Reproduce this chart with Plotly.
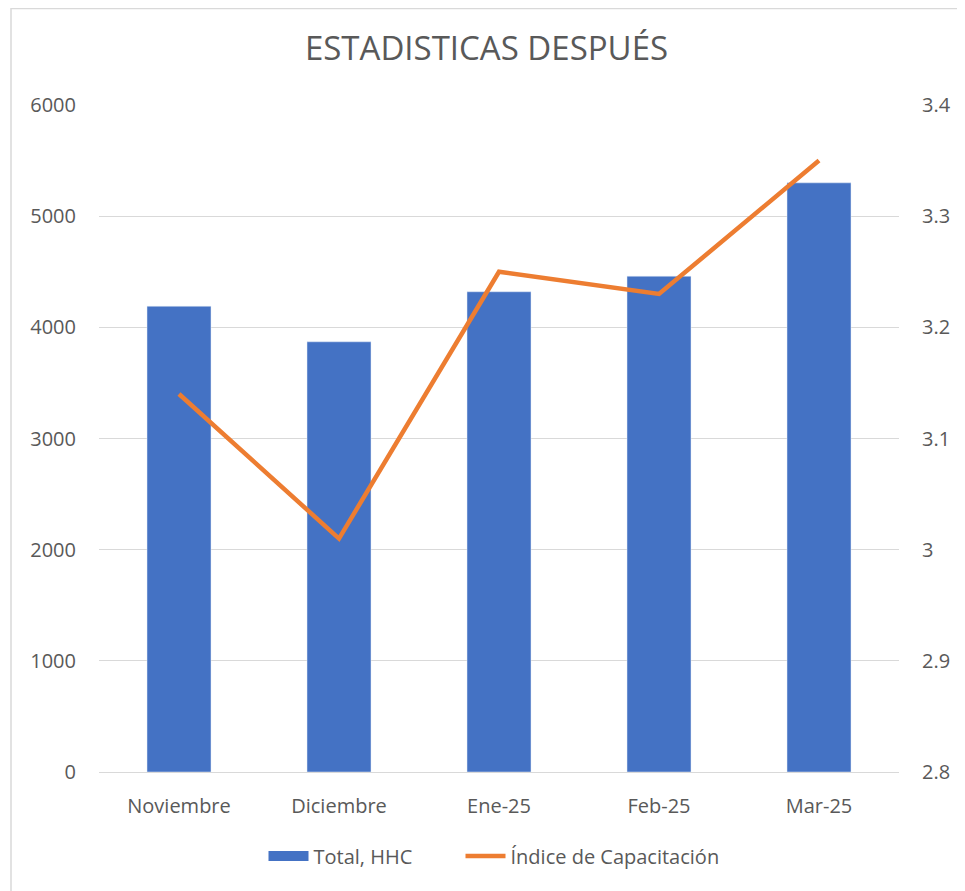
import plotly.graph_objects as go

categories = ["Noviembre", "Diciembre", "Ene-25", "Feb-25", "Mar-25"]
total_hhc = [4190, 3870, 4320, 4460, 5300]
indice_cap = [3.14, 3.01, 3.25, 3.23, 3.35]
left_ticks = [0, 1000, 2000, 3000, 4000, 5000, 6000]
right_ticks = [2.8, 2.9, 3.0, 3.1, 3.2, 3.3, 3.4]
right_labels = ["2.8", "2.9", "3", "3.1", "3.2", "3.3", "3.4"]

FONT = "Open Sans"
GREY = "#595959"
BLUE = "#4472C4"
ORANGE = "#ED7D31"

W, H = 957, 883
L, T = 91, 97
PW, PH = 800, 667

fig = go.Figure()
fig.add_trace(go.Bar(x=categories, y=total_hhc, name="Total, HHC",
                     marker=dict(color=BLUE), yaxis="y", showlegend=False))
# legend entry drawn as a wide rectangle like the original
fig.add_trace(go.Scatter(x=[None], y=[None], name="Total, HHC", mode="lines",
                         line=dict(color=BLUE, width=14), yaxis="y",
                         hoverinfo="skip", legendwidth=142))
fig.add_trace(go.Scatter(x=categories, y=indice_cap, name="Índice de Capacitación",
                         mode="lines", line=dict(color=ORANGE, width=4.5),
                         yaxis="y2"))

fig.update_layout(
    width=W, height=H,
    paper_bgcolor="white", plot_bgcolor="white",
    margin=dict(l=L, r=W - L - PW, t=T, b=H - T - PH),
    title=dict(text="ESTADISTICAS DESPUÉS", x=0.5, xanchor="center",
               y=1 - 40 / H, yanchor="middle",
               font=dict(family=FONT, size=33, color=GREY)),
    font=dict(family=FONT, size=20, color=GREY),
    bargap=0.6,
    xaxis=dict(showgrid=False, showline=True, linecolor="#d9d9d9", linewidth=1,
               ticks="", tickfont=dict(size=20, color=GREY), ticklabelstandoff=16),
    yaxis=dict(range=[0, 6000], tickvals=left_ticks, showgrid=True,
               gridcolor="#d9d9d9", gridwidth=1, zeroline=False, showline=False,
               tickfont=dict(size=20, color=GREY), ticklabelstandoff=22),
    yaxis2=dict(range=[2.8, 3.4], tickvals=right_ticks, ticktext=right_labels,
                overlaying="y", side="right", showgrid=False, zeroline=False,
                showline=False, tickfont=dict(size=20, color=GREY),
                ticklabelstandoff=22),
    legend=dict(orientation="h", x=0.5 - 5 / PW, xanchor="center",
                y=-(848 - T - PH) / PH,
                yanchor="middle", font=dict(size=20, color=GREY), itemwidth=40,
                tracegroupgap=0),
    shapes=[dict(type="rect", xref="paper", yref="paper",
                 x0=(3 - L) / PW, x1=1 + 80 / PW,
                 y0=-(H - T - PH + 20) / PH, y1=1 + (T - 0.5) / PH,
                 line=dict(color="#d9d9d9", width=1.5), layer="below")],
)

fig.write_html("out.html")
